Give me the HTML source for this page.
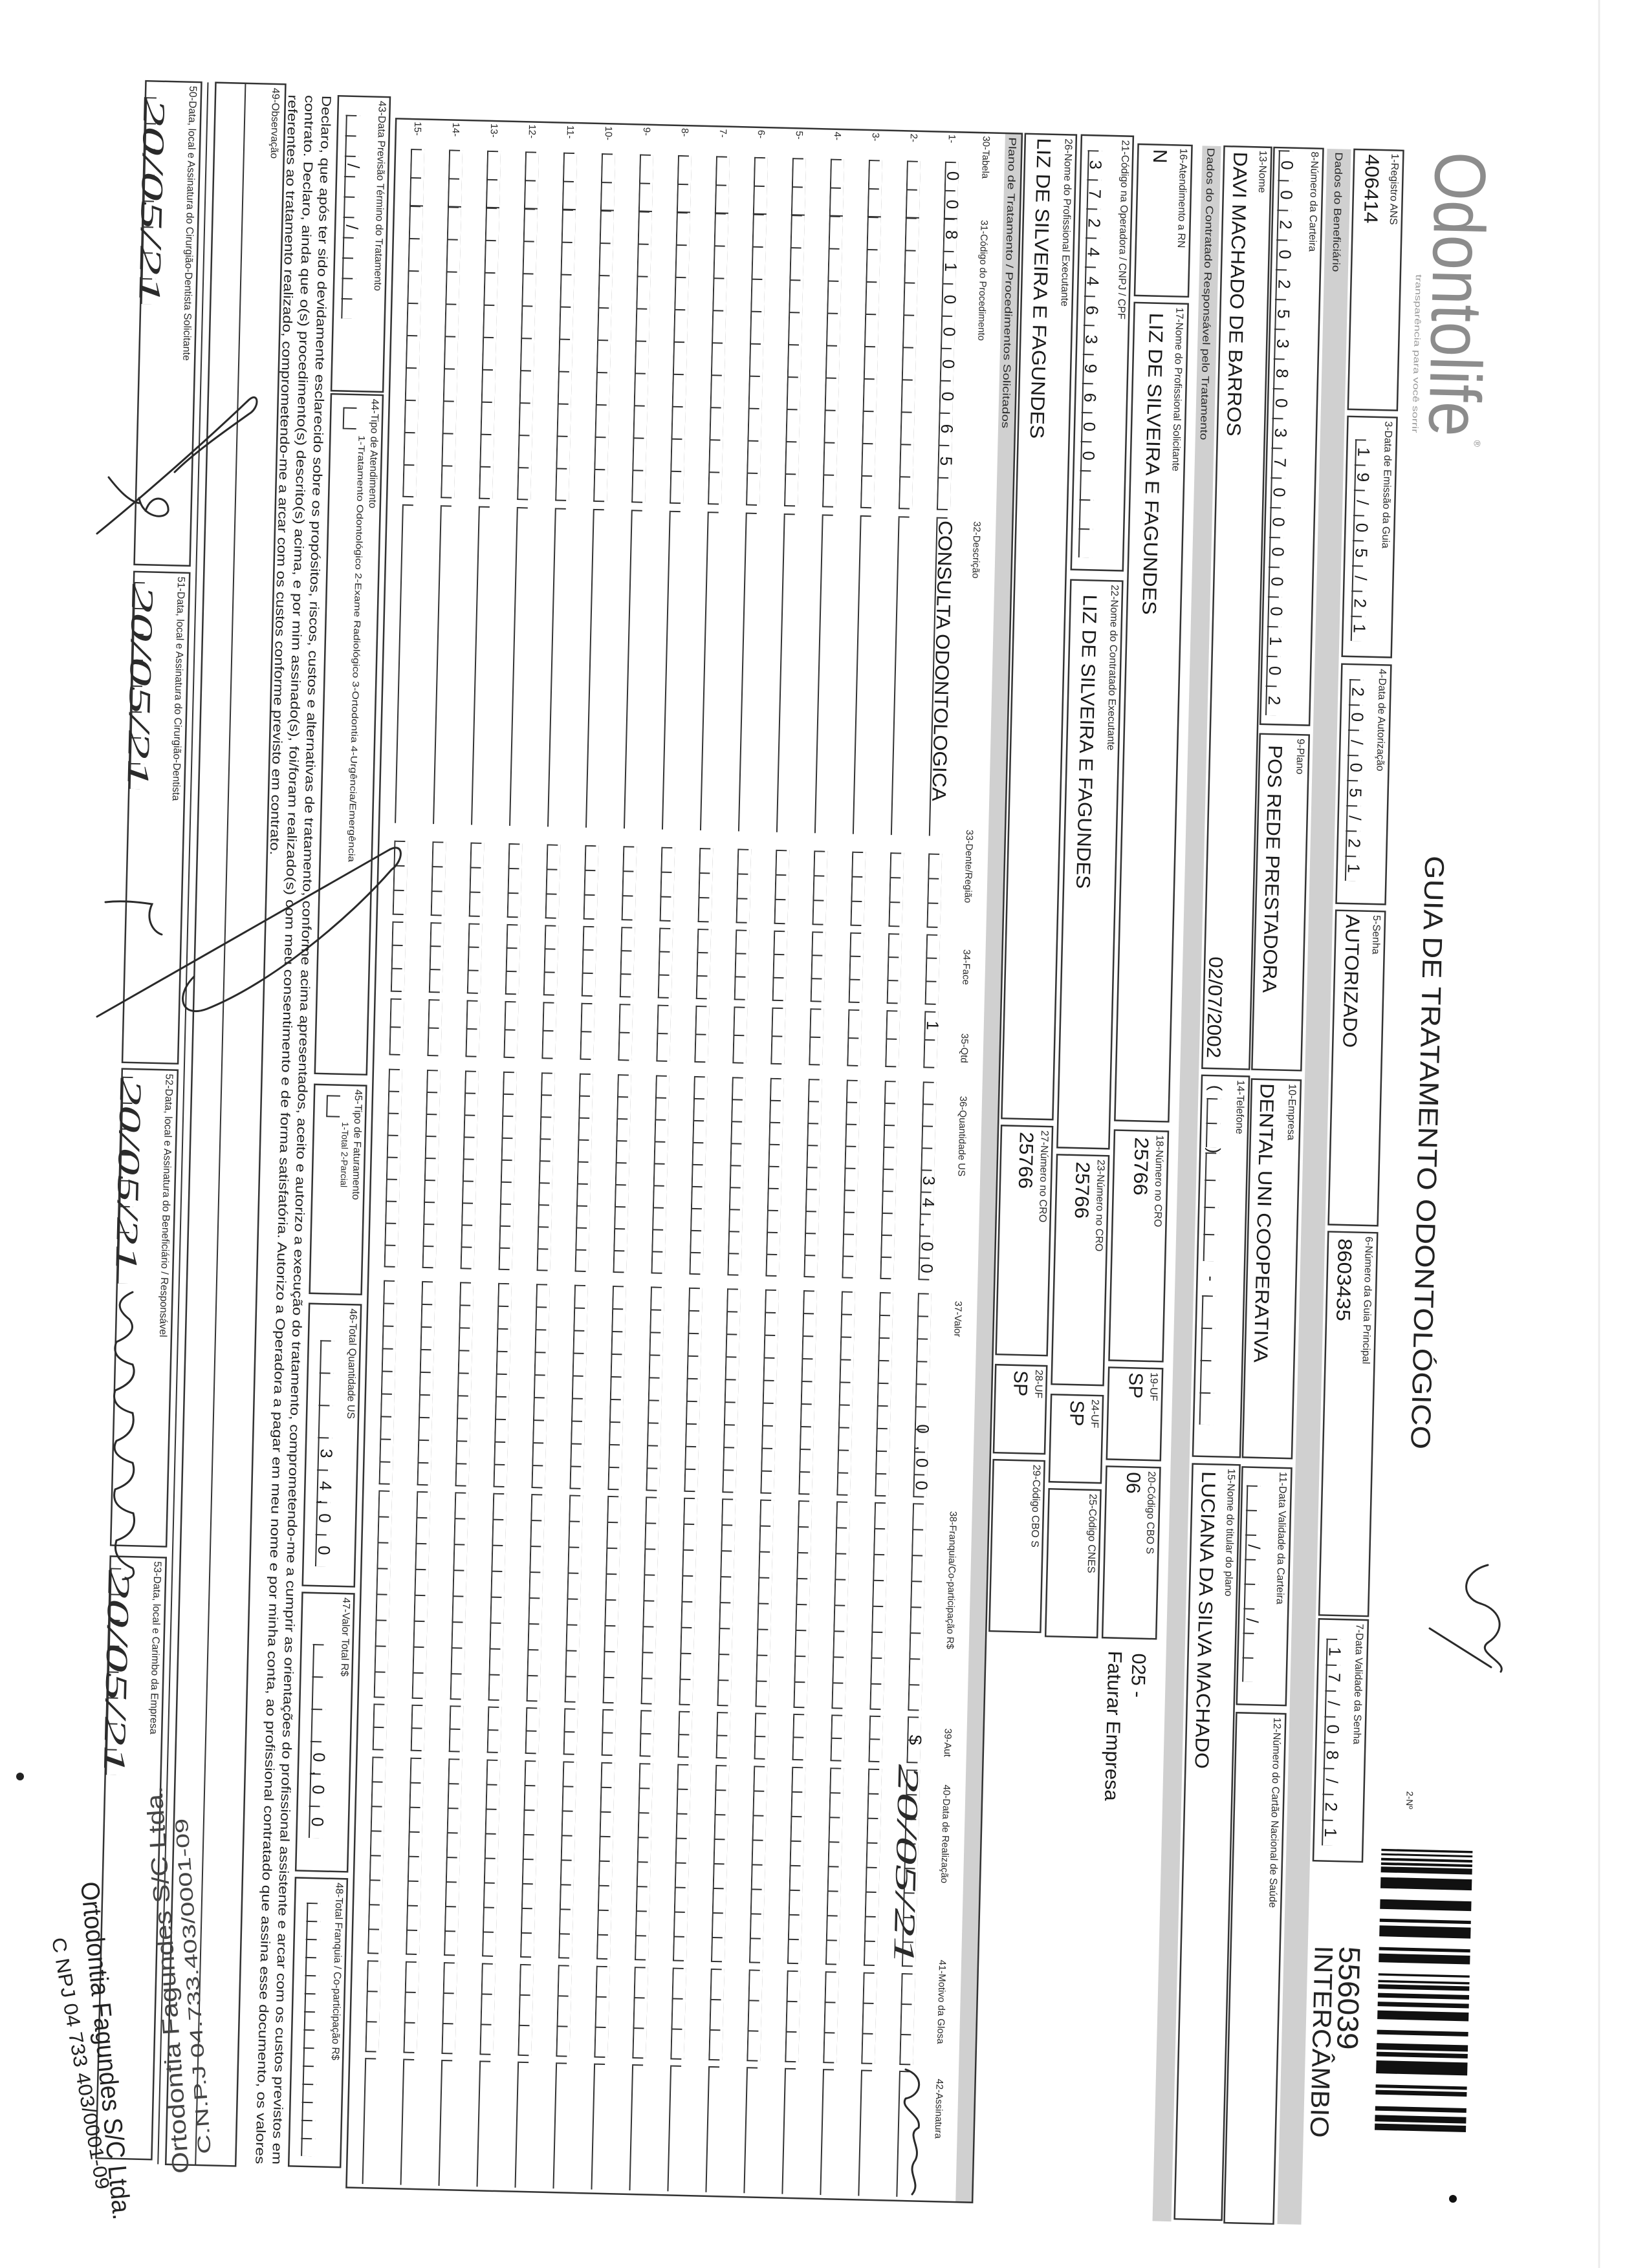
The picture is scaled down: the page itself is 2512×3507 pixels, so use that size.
<!DOCTYPE html>
<html><head><meta charset="utf-8"><style>
html,body{margin:0;padding:0;background:#fff}
svg{display:block}
.b{fill:none;stroke:#333;stroke-width:2.5}
.ln{fill:none;stroke:#333;stroke-width:2}
.l{font-size:16px;fill:#2a2a2a}
.lh{font-size:15px;fill:#2a2a2a}
.v{font-size:30px;fill:#1a1a1a}
.d{font-size:26px;fill:#1a1a1a;text-anchor:middle}
.h{font-family:"Liberation Serif",serif;font-style:italic;fill:#2a2a2a}
.g{fill:#d0d0d0}
.sc{fill:none;stroke:#2a2a2a;stroke-width:3;stroke-linecap:round}
</style></head><body>
<svg xmlns="http://www.w3.org/2000/svg" xmlns:xlink="http://www.w3.org/1999/xlink" width="2512" height="3507" viewBox="0 0 2512 3507" font-family="'Liberation Sans', Arial, sans-serif">
<rect width="2512" height="3507" fill="#fff"/>
<line x1="2472" y1="0" x2="2472" y2="3507" stroke="#ececec" stroke-width="3"/>
<defs>
<pattern id="pd3" patternUnits="userSpaceOnUse" x="659" y="384" width="39" height="22"><path d="M0,20.5H39M1,5V22" class="ln"/></pattern>
<pattern id="pd4" patternUnits="userSpaceOnUse" x="1030" y="384" width="39" height="22"><path d="M0,20.5H39M1,5V22" class="ln"/></pattern>
<pattern id="pd7" patternUnits="userSpaceOnUse" x="2514" y="384" width="40" height="22"><path d="M0,20.5H40M1,5V22" class="ln"/></pattern>
<pattern id="pc8" patternUnits="userSpaceOnUse" x="215" y="513" width="46" height="22"><path d="M0,20.5H46M1,5V22" class="ln"/></pattern>
<pattern id="pd11" patternUnits="userSpaceOnUse" x="2280" y="513" width="38" height="22"><path d="M0,20.5H38M1,5V22" class="ln"/></pattern>
<pattern id="pph1" patternUnits="userSpaceOnUse" x="1683" y="589" width="38" height="22"><path d="M0,20.5H38M1,5V22" class="ln"/></pattern>
<pattern id="pph2" patternUnits="userSpaceOnUse" x="1767" y="589" width="42" height="22"><path d="M0,20.5H42M1,5V22" class="ln"/></pattern>
<pattern id="pph3" patternUnits="userSpaceOnUse" x="1988" y="589" width="50" height="22"><path d="M0,20.5H50M1,5V22" class="ln"/></pattern>
<pattern id="p21" patternUnits="userSpaceOnUse" x="222" y="808" width="45" height="22"><path d="M0,20.5H45M1,5V22" class="ln"/></pattern>
<pattern id="p43" patternUnits="userSpaceOnUse" x="195" y="1956" width="31.5" height="22"><path d="M0,20.5H31.5M1,5V22" class="ln"/></pattern>
<pattern id="p46" patternUnits="userSpaceOnUse" x="2090" y="1950" width="50" height="22"><path d="M0,20.5H50M1,5V22" class="ln"/></pattern>
<pattern id="p47" patternUnits="userSpaceOnUse" x="2560" y="1950" width="50" height="22"><path d="M0,20.5H50M1,5V22" class="ln"/></pattern>
<pattern id="p48" patternUnits="userSpaceOnUse" x="2960" y="1950" width="28" height="22"><path d="M0,20.5H28M1,5V22" class="ln"/></pattern>
<pattern id="p50" patternUnits="userSpaceOnUse" x="175" y="2266" width="40" height="22"><path d="M0,20.5H40M1,5V22" class="ln"/></pattern>
<pattern id="p51" patternUnits="userSpaceOnUse" x="925" y="2266" width="40" height="22"><path d="M0,20.5H40M1,5V22" class="ln"/></pattern>
<pattern id="p52" patternUnits="userSpaceOnUse" x="1690" y="2266" width="40" height="22"><path d="M0,20.5H40M1,5V22" class="ln"/></pattern>
<pattern id="p53" patternUnits="userSpaceOnUse" x="2450" y="2266" width="40" height="22"><path d="M0,20.5H40M1,5V22" class="ln"/></pattern>
<pattern id="t1" patternUnits="userSpaceOnUse" x="245" y="-20" width="44" height="21"><path d="M0,20H44M1,4V21" class="ln"/></pattern>
<pattern id="t2" patternUnits="userSpaceOnUse" x="333" y="-20" width="50" height="21"><path d="M0,20H50M1,4V21" class="ln"/></pattern>
<pattern id="t3" patternUnits="userSpaceOnUse" x="1315" y="-20" width="38" height="21"><path d="M0,20H38M1,4V21" class="ln"/></pattern>
<pattern id="t4" patternUnits="userSpaceOnUse" x="1440" y="-20" width="36" height="21"><path d="M0,20H36M1,4V21" class="ln"/></pattern>
<pattern id="t5" patternUnits="userSpaceOnUse" x="1559" y="-20" width="43.5" height="21"><path d="M0,20H43.5M1,4V21" class="ln"/></pattern>
<pattern id="t6" patternUnits="userSpaceOnUse" x="1668" y="-20" width="34" height="21"><path d="M0,20H34M1,4V21" class="ln"/></pattern>
<pattern id="t7" patternUnits="userSpaceOnUse" x="1995" y="-20" width="35" height="21"><path d="M0,20H35M1,4V21" class="ln"/></pattern>
<pattern id="t8" patternUnits="userSpaceOnUse" x="2320" y="-20" width="40" height="21"><path d="M0,20H40M1,4V21" class="ln"/></pattern>
<pattern id="t9" patternUnits="userSpaceOnUse" x="2650" y="-20" width="35.5" height="21"><path d="M0,20H35.5M1,4V21" class="ln"/></pattern>
<pattern id="t10" patternUnits="userSpaceOnUse" x="2732" y="-20" width="38" height="21"><path d="M0,20H38M1,4V21" class="ln"/></pattern>
<pattern id="t11" patternUnits="userSpaceOnUse" x="3047" y="-20" width="47" height="21"><path d="M0,20H47M1,4V21" class="ln"/></pattern>
<g id="row">
<rect x="245" y="-20" width="88" height="21" fill="url(#t1)"/>
<rect x="333" y="-20" width="450" height="21" fill="url(#t2)"/>
<rect x="1315" y="-20" width="114" height="21" fill="url(#t3)"/>
<rect x="1440" y="-20" width="108" height="21" fill="url(#t4)"/>
<rect x="1559" y="-20" width="87" height="21" fill="url(#t5)"/>
<rect x="1668" y="-20" width="306" height="21" fill="url(#t6)"/>
<rect x="1995" y="-20" width="315" height="21" fill="url(#t7)"/>
<rect x="2320" y="-20" width="320" height="21" fill="url(#t8)"/>
<rect x="2650" y="-20" width="71" height="21" fill="url(#t9)"/>
<rect x="2732" y="-20" width="304" height="21" fill="url(#t10)"/>
<rect x="3047" y="-20" width="141" height="21" fill="url(#t11)"/>
<path class="ln" d="M795,0H1288M796,-16V1M3198,0H3393M3199,-16V1M333,-20V1M783,-16V1M1429,-16V1M1548,-16V1M1646,-16V1M1974,-16V1M2310,-16V1M2640,-16V1M2721,-16V1M3036,-16V1M3188,-16V1"/>
</g>
</defs>

<g transform="translate(2512,0) rotate(90) rotate(1.375 200 1250)">
<!-- logo & title -->
<text x="211" y="292" font-size="112" fill="#8c8c8c" textLength="440" lengthAdjust="spacingAndGlyphs">Odontolife</text>
<text x="656" y="222" font-size="14" fill="#8c8c8c">®</text>
<text x="402" y="318" font-size="13" fill="#9a9a9a" textLength="245" lengthAdjust="spacingAndGlyphs">transparência para você sorrir</text>
<text x="1300" y="282" font-size="42" fill="#222" textLength="918" lengthAdjust="spacingAndGlyphs">GUIA DE TRATAMENTO ODONTOLÓGICO</text>
<text x="2747" y="276" font-size="14" fill="#222">2-Nº</text>
<g fill="#111">
<rect x="2837" y="172" width="3.4" height="141"/><rect x="2844" y="172" width="3" height="141"/><rect x="2851" y="172" width="4" height="141"/><rect x="2858" y="172" width="4" height="141"/><rect x="2864.5" y="172" width="9" height="141"/><rect x="2881" y="172" width="17" height="141"/><rect x="2915" y="172" width="15" height="141"/><rect x="2945" y="172" width="5" height="141"/><rect x="2955.5" y="172" width="17" height="141"/><rect x="2989" y="172" width="5" height="141"/><rect x="2999" y="172" width="13.5" height="141"/><rect x="3029.6" y="172" width="3.4" height="141"/><rect x="3040" y="172" width="3.4" height="141"/><rect x="3046.5" y="172" width="7" height="141"/><rect x="3060" y="172" width="7" height="141"/><rect x="3073.5" y="172" width="7" height="141"/><rect x="3087" y="172" width="13.5" height="141"/><rect x="3117" y="172" width="7" height="141"/><rect x="3137.5" y="172" width="10" height="141"/><rect x="3151" y="172" width="7" height="141"/><rect x="3164.4" y="172" width="20" height="141"/><rect x="3201.5" y="172" width="5" height="141"/><rect x="3210" y="172" width="7" height="141"/><rect x="3235" y="172" width="7" height="141"/><rect x="3248.7" y="172" width="10" height="141"/><rect x="3262" y="172" width="10" height="141"/>
</g>
<text x="2989" y="374" font-size="46" fill="#222" textLength="160" lengthAdjust="spacingAndGlyphs">556039</text>
<text x="2989" y="412" font-size="40" fill="#222" textLength="297" lengthAdjust="spacingAndGlyphs">INTERCÂMBIO</text>

<!-- Row A -->
<rect class="b" x="211" y="342" width="402" height="76"/>
<text class="l" x="216" y="360">1-Registro ANS</text>
<text class="v" x="218" y="400" textLength="107" lengthAdjust="spacingAndGlyphs">406414</text>
<rect class="b" x="624" y="342" width="371" height="76"/>
<text class="l" x="630" y="360">3-Data de Emissão da Guia</text>
<rect x="659" y="384" width="312" height="22" fill="url(#pd3)"/>
<text class="d" y="401" x="678.5 717.5 756.5 795.5 834.5 873.5 912.5 951.5">19/05/21</text>
<rect class="b" x="1007" y="342" width="370" height="76"/>
<text class="l" x="1013" y="360">4-Data de Autorização</text>
<rect x="1030" y="384" width="312" height="22" fill="url(#pd4)"/>
<text class="d" y="401" x="1049.5 1088.5 1127.5 1166.5 1205.5 1244.5 1283.5 1322.5">20/05/21</text>
<rect class="b" x="1388" y="342" width="486" height="76"/>
<text class="l" x="1394" y="360">5-Senha</text>
<text class="v" x="1394" y="402" textLength="206" lengthAdjust="spacingAndGlyphs">AUTORIZADO</text>
<rect class="b" x="1885" y="342" width="593" height="76"/>
<text class="l" x="1891" y="360">6-Número da Guia Principal</text>
<text class="v" x="1895" y="402" textLength="128" lengthAdjust="spacingAndGlyphs">8603435</text>
<rect class="b" x="2484" y="342" width="374" height="76"/>
<text class="l" x="2490" y="360">7-Data Validade da Senha</text>
<rect x="2514" y="384" width="320" height="22" fill="url(#pd7)"/>
<text class="d" y="401" x="2534 2574 2614 2654 2694 2734 2774 2814">17/08/21</text>

<!-- Band 1 -->
<rect class="g" x="211" y="423" width="3210" height="37"/>
<text class="l" x="216" y="447" textLength="185" lengthAdjust="spacingAndGlyphs">Dados do Beneficiário</text>

<!-- Row B -->
<rect class="b" x="211" y="466" width="892" height="76"/>
<text class="l" x="216" y="484">8-Número da Carteira</text>
<rect x="215" y="513" width="874" height="22" fill="url(#pc8)"/>
<text class="d" y="530" x="238 284 330 376 422 468 514 560 606 652 698 744 790 836 882 928 974 1020 1066">0020253803700000102</text>
<rect class="b" x="1118" y="466" width="519" height="76"/>
<text class="l" x="1124" y="484">9-Plano</text>
<text class="v" x="1135" y="528" textLength="383" lengthAdjust="spacingAndGlyphs">POS REDE PRESTADORA</text>
<rect class="b" x="1652" y="466" width="585" height="76"/>
<text class="l" x="1658" y="484">10-Empresa</text>
<text class="v" x="1658" y="528" textLength="432" lengthAdjust="spacingAndGlyphs">DENTAL UNI  COOPERATIVA</text>
<rect class="b" x="2252" y="466" width="367" height="76"/>
<text class="l" x="2258" y="484">11-Data Validade da Carteira</text>
<rect x="2280" y="513" width="304" height="22" fill="url(#pd11)"/>
<text class="d" y="530" x="2375 2489">//</text>
<rect class="b" x="2632" y="466" width="789" height="76"/>
<text class="l" x="2638" y="484">12-Número do Cartão Nacional de Saúde</text>

<!-- Row C -->
<rect class="b" x="211" y="546" width="1426" height="73"/>
<text class="l" x="216" y="564">13-Nome</text>
<text class="v" x="219" y="604" font-size="32" textLength="440" lengthAdjust="spacingAndGlyphs">DAVI MACHADO DE BARROS</text>
<text class="v" x="1464" y="612" font-size="27" textLength="157" lengthAdjust="spacingAndGlyphs">02/07/2002</text>
<rect class="b" x="1648" y="546" width="589" height="73"/>
<text class="l" x="1654" y="564">14-Telefone</text>
<text class="d" y="606" x="1667 1764 1962">()-</text>
<rect x="1683" y="589" width="76" height="22" fill="url(#pph1)"/>
<rect x="1767" y="589" width="168" height="22" fill="url(#pph2)"/>
<rect x="1988" y="589" width="200" height="22" fill="url(#pph3)"/>
<rect class="b" x="2249" y="546" width="1168" height="73"/>
<text class="l" x="2255" y="564">15-Nome do titular do plano</text>
<text class="v" x="2260" y="604" font-size="32" textLength="460" lengthAdjust="spacingAndGlyphs">LUCIANA DA SILVA MACHADO</text>

<!-- Band 2 -->
<rect class="g" x="211" y="624" width="3210" height="29"/>
<text class="l" x="214" y="645" textLength="452" lengthAdjust="spacingAndGlyphs">Dados do Contratado Responsável pelo Tratamento</text>

<!-- Row D -->
<rect class="b" x="211" y="669" width="234" height="83"/>
<text class="l" x="216" y="687">16-Atendimento a RN</text>
<text class="v" x="218" y="728">N</text>
<rect class="b" x="456" y="669" width="1265" height="83"/>
<text class="l" x="462" y="687">17-Nome do Profissional Solicitante</text>
<text class="v" x="471" y="728" textLength="467" lengthAdjust="spacingAndGlyphs">LIZ DE SILVEIRA E FAGUNDES</text>
<rect class="b" x="1736" y="669" width="356" height="83"/>
<text class="l" x="1742" y="687">18-Número no CRO</text>
<text class="v" x="1746" y="720" textLength="90" lengthAdjust="spacingAndGlyphs">25766</text>
<rect class="b" x="2103" y="669" width="142" height="83"/>
<text class="l" x="2109" y="687">19-UF</text>
<text class="v" x="2110" y="720">SP</text>
<rect class="b" x="2256" y="669" width="265" height="83"/>
<text class="l" x="2262" y="687">20-Código CBO S</text>
<text class="v" x="2264" y="720">06</text>
<text class="v" x="2544" y="705" font-size="26">025 -</text>
<text class="v" x="2541" y="742" font-size="32" textLength="232" lengthAdjust="spacingAndGlyphs">Faturar Empresa</text>

<!-- Row E -->
<rect class="b" x="199" y="760" width="672" height="80"/>
<text class="l" x="205" y="777">21-Código na Operadora / CNPJ / CPF</text>
<rect x="222" y="808" width="630" height="22" fill="url(#p21)"/>
<text class="d" y="826" x="244.5 289.5 334.5 379.5 424.5 469.5 514.5 559.5 604.5 649.5 694.5">37244639600</text>
<rect class="b" x="887" y="760" width="878" height="80"/>
<text class="l" x="893" y="777">22-Nome do Contratado Executante</text>
<text class="v" x="909" y="820" textLength="455" lengthAdjust="spacingAndGlyphs">LIZ DE SILVEIRA E FAGUNDES</text>
<rect class="b" x="1776" y="760" width="355" height="80"/>
<text class="l" x="1782" y="777">23-Número no CRO</text>
<text class="v" x="1786" y="810" textLength="88" lengthAdjust="spacingAndGlyphs">25766</text>
<rect class="b" x="2147" y="760" width="135" height="80"/>
<text class="l" x="2153" y="777">24-UF</text>
<text class="v" x="2155" y="810">SP</text>
<rect class="b" x="2293" y="760" width="228" height="80"/>
<text class="l" x="2299" y="777">25-Código CNES</text>

<!-- Row F -->
<rect class="b" x="199" y="848" width="1523" height="79"/>
<text class="l" x="205" y="865">26-Nome do Profissional Executante</text>
<text class="v" x="205" y="908" textLength="465" lengthAdjust="spacingAndGlyphs">LIZ DE SILVEIRA E FAGUNDES</text>
<rect class="b" x="1733" y="848" width="354" height="79"/>
<text class="l" x="1739" y="865">27-Número no CRO</text>
<text class="v" x="1742" y="898" textLength="88" lengthAdjust="spacingAndGlyphs">25766</text>
<rect class="b" x="2103" y="848" width="136" height="79"/>
<text class="l" x="2109" y="865">28-UF</text>
<text class="v" x="2111" y="898">SP</text>
<rect class="b" x="2250" y="848" width="265" height="79"/>
<text class="l" x="2256" y="865">29-Código CBO S</text>

<!-- Table -->
<rect class="g" x="199" y="933" width="3200" height="25"/>
<text class="l" x="205" y="952" textLength="450" lengthAdjust="spacingAndGlyphs">Plano de Tratamento / Procedimentos Solicitados</text>
<rect class="b" x="199" y="932" width="3200" height="968"/>
<g class="lh">
<text x="204" y="992">30-Tabela</text>
<text x="334" y="992">31-Código do Procedimento</text>
<text x="800" y="992">32-Descrição</text>
<text x="1277" y="992">33-Dente/Região</text>
<text x="1462" y="992">34-Face</text>
<text x="1592" y="992">35-Qtd</text>
<text x="1689" y="992">36-Quantidade US</text>
<text x="2006" y="992">37-Valor</text>
<text x="2331" y="992">38-Franquia/Co-participação R$</text>
<text x="2667" y="992">39-Aut</text>
<text x="2754" y="992">40-Data de Realização</text>
<text x="3025" y="992">41-Motivo da Glosa</text>
<text x="3209" y="992">42-Assinatura</text>
</g>
<use xlink:href="#row" href="#row" y="1049"/>
<use xlink:href="#row" href="#row" y="1108"/>
<use xlink:href="#row" href="#row" y="1167"/>
<use xlink:href="#row" href="#row" y="1226"/>
<use xlink:href="#row" href="#row" y="1285"/>
<use xlink:href="#row" href="#row" y="1344"/>
<use xlink:href="#row" href="#row" y="1403"/>
<use xlink:href="#row" href="#row" y="1462"/>
<use xlink:href="#row" href="#row" y="1521"/>
<use xlink:href="#row" href="#row" y="1580"/>
<use xlink:href="#row" href="#row" y="1639"/>
<use xlink:href="#row" href="#row" y="1698"/>
<use xlink:href="#row" href="#row" y="1757"/>
<use xlink:href="#row" href="#row" y="1816"/>
<use xlink:href="#row" href="#row" y="1875"/>
<g class="lh">
<text x="203" y="1045">1-</text><text x="203" y="1104">2-</text><text x="203" y="1163">3-</text><text x="203" y="1222">4-</text><text x="203" y="1281">5-</text><text x="203" y="1340">6-</text><text x="203" y="1399">7-</text><text x="203" y="1458">8-</text><text x="203" y="1517">9-</text><text x="203" y="1576">10-</text><text x="203" y="1635">11-</text><text x="203" y="1694">12-</text><text x="203" y="1753">13-</text><text x="203" y="1812">14-</text><text x="203" y="1871">15-</text>
</g>
<text class="d" y="1046" x="267 311">00</text>
<text class="d" y="1046" x="358 408 458 508 558 608 658 708">81000065</text>
<text class="v" x="800" y="1046" font-size="28" textLength="434" lengthAdjust="spacingAndGlyphs">CONSULTA ODONTOLOGICA</text>
<text class="d" y="1046" x="1581">1</text>
<text class="d" y="1046" x="1821 1855 1889 1923 1957">34,00</text>
<text class="d" y="1046" x="2205 2235 2257.5 2292.5">0,00</text>
<text class="d" y="1046" x="2686">S</text>
<text class="h" x="2724" y="1062" font-size="46" textLength="310" lengthAdjust="spacingAndGlyphs">20/05/21</text>

<!-- Row 43-48 -->
<rect class="b" x="166" y="1910" width="456" height="80"/>
<text class="l" x="172" y="1927">43-Data Previsão Término do Tratamento</text>
<rect x="195" y="1956" width="315" height="22" fill="url(#p43)"/>
<text class="d" y="1973" x="273.75 368.25">//</text>
<rect class="b" x="627" y="1910" width="1051" height="80"/>
<text class="l" x="633" y="1927">44-Tipo de Atendimento</text>
<path class="ln" d="M648,1950V1970H680V1950"/>
<text x="690" y="1946" font-size="14" fill="#2a2a2a" textLength="660" lengthAdjust="spacingAndGlyphs">1-Tratamento Odontológico 2-Exame Radiológico 3-Ortodontia 4-Urgência/Emergência</text>
<rect class="b" x="1695" y="1910" width="323" height="80"/>
<text class="l" x="1701" y="1927">45-Tipo de Faturamento</text>
<path class="ln" d="M1712,1950V1970H1744V1950"/>
<text x="1752" y="1946" font-size="14" fill="#2a2a2a">1-Total  2-Parcial</text>
<rect class="b" x="2034" y="1910" width="436" height="80"/>
<text class="l" x="2040" y="1927">46-Total Quantidade US</text>
<rect x="2090" y="1950" width="350" height="22" fill="url(#p46)"/>
<text class="d" y="1967" x="2265 2315 2340 2365 2415">34,00</text>
<rect class="b" x="2481" y="1910" width="430" height="80"/>
<text class="l" x="2487" y="1927">47-Valor Total R$</text>
<rect x="2560" y="1950" width="300" height="22" fill="url(#p47)"/>
<text class="d" y="1967" x="2735 2760 2785 2835">0,00</text>
<rect class="b" x="2922" y="1910" width="446" height="80"/>
<text class="l" x="2928" y="1927">48-Total Franquia / Co-participação R$</text>
<rect x="2960" y="1950" width="392" height="22" fill="url(#p48)"/>

<!-- Declaration -->
<g font-size="20" fill="#222">
<text x="166" y="2015" textLength="3200" lengthAdjust="spacingAndGlyphs">Declaro, que após ter sido devidamente esclarecido sobre os propósitos, riscos, custos e alternativas de tratamento, conforme acima apresentados, aceito e autorizo a execução do tratamento, comprometendo-me a cumprir as orientações do profissional assistente e arcar com os custos previstos em</text>
<text x="166" y="2041" textLength="3200" lengthAdjust="spacingAndGlyphs">contrato. Declaro, ainda que o(s) procedimento(s) descrito(s) acima, e por mim assinado(s), foi/foram realizado(s) com meu consentimento e de forma satisfatória. Autorizo a Operadora a pagar em meu nome e por minha conta, ao profissional contratado que assina esse documento, os valores</text>
<text x="166" y="2067" textLength="1176" lengthAdjust="spacingAndGlyphs">referentes ao tratamento realizado, comprometendo-me a arcar com os custos conforme previsto em contrato.</text>
</g>

<!-- Observação -->
<rect class="b" x="150" y="2072" width="3220" height="108"/>
<text class="l" x="156" y="2092">49-Observação</text>
<line x1="150" y1="2134" x2="3370" y2="2134" class="ln"/>
<line x1="150" y1="2192" x2="3370" y2="2192" class="ln"/>

<!-- Signatures -->
<rect class="b" x="150" y="2202" width="748" height="86"/>
<text class="l" x="156" y="2220">50-Data, local e Assinatura do Cirurgião-Dentista Solicitante</text>
<rect x="175" y="2266" width="320" height="22" fill="url(#p50)"/>
<text class="h" x="175" y="2290" font-size="48" textLength="320" lengthAdjust="spacingAndGlyphs">20/05/21</text>
<rect class="b" x="909" y="2202" width="759" height="86"/>
<text class="l" x="915" y="2220">51-Data, local e Assinatura do Cirurgião-Dentista</text>
<rect x="925" y="2266" width="320" height="22" fill="url(#p51)"/>
<text class="h" x="928" y="2290" font-size="48" textLength="315" lengthAdjust="spacingAndGlyphs">20/05/21</text>
<rect class="b" x="1678" y="2202" width="737" height="86"/>
<text class="l" x="1684" y="2220">52-Data, local e Assinatura do Beneficiário / Responsável</text>
<rect x="1690" y="2266" width="320" height="22" fill="url(#p52)"/>
<text class="h" x="1692" y="2290" font-size="48" textLength="300" lengthAdjust="spacingAndGlyphs">20/05/21</text>
<rect class="b" x="2432" y="2202" width="931" height="86"/>
<text class="l" x="2438" y="2220">53-Data, local e Carimbo da Empresa</text>
<rect x="2450" y="2266" width="320" height="22" fill="url(#p53)"/>
<text class="h" x="2453" y="2290" font-size="48" textLength="316" lengthAdjust="spacingAndGlyphs">20/05/21</text>
</g>

<!-- Handwriting (screen space) -->
<path class="sc" d="M150,825 C230,760 320,680 385,618 C400,605 402,630 385,640 C350,665 300,700 270,730"/>
<path class="sc" d="M168,738 C185,760 200,775 215,778 M215,770 C220,800 255,805 260,790 C262,770 235,760 225,790"/>
<path class="sc" d="M150,1572 L600,1315 C625,1300 625,1330 605,1345 C540,1420 420,1520 320,1560 C280,1575 270,1540 300,1510"/>
<path class="sc" d="M163,1395 C190,1392 215,1395 235,1398 C225,1420 235,1440 250,1445"/>
<path class="sc" d="M2300,2420 C2260,2430 2255,2470 2290,2480 C2320,2490 2330,2520 2300,2540 C2280,2555 2330,2570 2320,2585 M2210,2518 L2305,2578"/>
<path class="sc" d="M1400,3200 C1430,3210 1425,3240 1400,3245 C1390,3260 1425,3270 1420,3290 C1400,3300 1425,3320 1415,3340 C1400,3360 1425,3375 1410,3393"/>
<path class="sc" stroke-width="2.5" d="M205,1998 Q168,2015 200,2040 Q215,2060 180,2075 Q170,2100 205,2110 Q215,2135 178,2150 Q170,2175 205,2185 Q212,2215 180,2228 Q168,2250 205,2262 Q214,2290 178,2303 Q170,2330 206,2340 Q214,2370 180,2382 Q172,2410 205,2425 Q212,2440 190,2442"/>
<circle cx="2246" cy="3400" r="6" fill="#111"/>
<circle cx="31" cy="2747" r="6" fill="#222"/>

<!-- Stamps -->
<text transform="translate(125,2911) rotate(84.5)" font-size="40" fill="#222" textLength="525" lengthAdjust="spacingAndGlyphs">Ortodontia Fagundes S/C Ltda.</text>
<text transform="translate(80,2998) rotate(79.9)" font-size="30" fill="#222" textLength="395" lengthAdjust="spacingAndGlyphs">C NPJ 04 733 403/0001-09</text>
<text transform="translate(292,3360) rotate(-94)" font-size="36" fill="#444" textLength="600" lengthAdjust="spacingAndGlyphs">Ortodontia Fagundes S/C Ltda.</text>
<text transform="translate(326,3330) rotate(-94)" font-size="28" fill="#444" textLength="520" lengthAdjust="spacingAndGlyphs">C.N.P.J 04.733.403/0001-09</text>
</svg>
</body></html>
